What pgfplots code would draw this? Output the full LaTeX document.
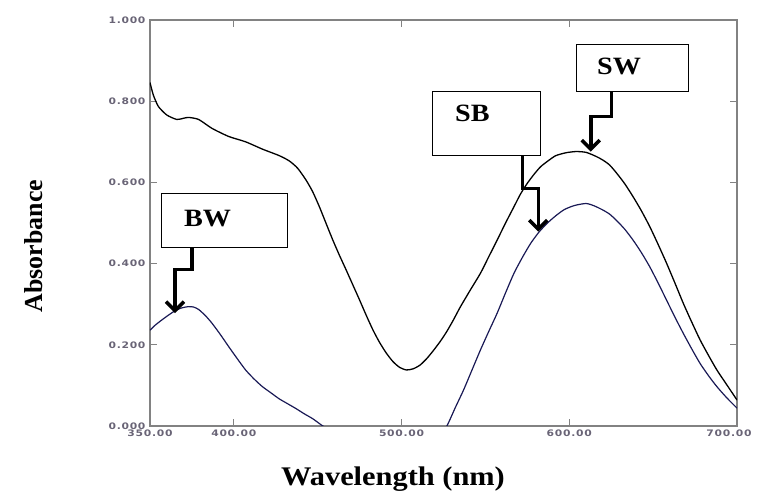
\documentclass[border=0pt]{standalone}
\usepackage{pgfplots}
\pgfplotsset{compat=1.18}
\usepackage{fontspec}
\setmainfont{Liberation Serif}
\newfontfamily\ticfont{DejaVu Sans}[FakeStretch=1.2,LetterSpace=8]
\newfontfamily\labfont{Liberation Serif}[FakeStretch=1.13]
\newfontfamily\ylabfont{Liberation Serif}
\usetikzlibrary{arrows.meta}
\definecolor{tickgray}{RGB}{105,100,118}
\definecolor{axisgray}{RGB}{130,130,130}
\definecolor{navy}{RGB}{25,25,85}
\begin{document}
\begin{tikzpicture}
\useasboundingbox (-150bp,-66bp) rectangle (607bp,426bp);
\begin{axis}[
  at={(0,0)}, anchor=south west,
  scale only axis, width=587bp, height=406bp,
  xmin=350, xmax=700, ymin=0, ymax=1,
  xtick={350,400,500,600,700},
  xticklabels={350.00,400.00,500.00,600.00,{\hspace{-16bp}700.00}},
  ytick={0,0.2,0.4,0.6,0.8,1},
  yticklabels={0.000,0.200,0.400,0.600,0.800,1.000},
  tick align=inside,
  major tick length=7bp,
  axis line style={draw=axisgray, line width=1.2bp},
  every tick/.style={draw=axisgray, line width=1bp},
  tick label style={font=\ticfont\bfseries\fontsize{9}{11}\selectfont, text=tickgray},
  xticklabel style={yshift=-0.5bp},
  yticklabel style={xshift=-1bp},
  clip=true,
]
\addplot[black, line width=1.3bp, smooth, tension=0.4] coordinates {
(350,0.846) (352,0.815) (355,0.787) (360,0.766) (366,0.755) (370,0.758)
(373,0.760) (379,0.755) (387,0.733) (397,0.713) (407,0.700) (417,0.682)
(427,0.666) (433,0.653) (438,0.635) (443,0.606) (447,0.577) (451,0.540)
(455,0.499) (459,0.458) (463,0.420) (467,0.384) (471,0.347) (475,0.310)
(479,0.272) (483,0.236) (487,0.205) (491,0.179) (495,0.158) (499,0.144)
(503,0.138) (507,0.141) (511,0.150) (515,0.166) (519,0.186) (523,0.208)
(527,0.233) (531,0.262) (535,0.293) (541,0.335) (547,0.376) (552,0.417)
(557,0.458) (562,0.500) (567,0.540) (571,0.572) (575,0.598) (579,0.620)
(583,0.639) (588,0.655) (592,0.666) (598,0.673) (604,0.676) (610,0.674)
(616,0.664) (620,0.655) (624,0.643) (628,0.624) (633,0.597) (638,0.565)
(643,0.530) (648,0.491) (653,0.447) (658,0.401) (663,0.352) (668,0.302)
(673,0.256) (678,0.212) (683,0.174) (688,0.138) (694,0.101) (700,0.064)
};
\addplot[navy, line width=1.2bp, smooth, tension=0.4] coordinates {
(350,0.236) (353,0.248) (357,0.261) (361,0.273) (365,0.284) (369,0.291)
(373,0.294) (376,0.293) (379,0.287) (383,0.272) (387,0.253) (392,0.225)
(397,0.195) (402,0.166) (407,0.138) (412,0.116) (417,0.097) (422,0.082)
(427,0.067) (432,0.055) (437,0.043) (442,0.030) (447,0.018) (452,0.003)
(455,-0.005)
};
\addplot[navy, line width=1.2bp, smooth, tension=0.4] coordinates {
(524,-0.010) (527,0.000) (532,0.045) (537,0.089) (542,0.138) (547,0.187)
(552,0.233) (557,0.278) (562,0.328) (567,0.376) (572,0.415) (577,0.450)
(582,0.478) (587,0.500) (592,0.518) (597,0.533) (603,0.543) (610,0.548)
(615,0.542) (620,0.532) (624,0.522) (628,0.507) (633,0.485) (638,0.458)
(643,0.427) (648,0.392) (653,0.352) (658,0.310) (663,0.268) (668,0.228)
(673,0.190) (678,0.154) (683,0.124) (688,0.097) (694,0.069) (700,0.044)
};
% annotation boxes
\draw[black, line width=0.8bp, fill=white] (axis cs:357,0.440) rectangle (axis cs:431.9,0.573);
\node[font=\labfont\bfseries\fontsize{25}{28}\selectfont] at (axis cs:384.3,0.511) {BW};
\draw[black, line width=0.8bp, fill=white] (axis cs:518.3,0.666) rectangle (axis cs:582.5,0.825);
\node[font=\labfont\bfseries\fontsize{25}{28}\selectfont] at (axis cs:542.2,0.770) {SB};
\draw[black, line width=0.8bp, fill=white] (axis cs:604.0,0.825) rectangle (axis cs:671.0,0.941);
\node[font=\labfont\bfseries\fontsize{25}{28}\selectfont] at (axis cs:629.7,0.885) {SW};
% arrows
\draw[black, line width=3.5bp, -{Straight Barb[length=9bp,width=18bp,line width=3.5bp]}]
  (axis cs:374.9,0.440) -- (axis cs:374.9,0.386) -- (axis cs:364.9,0.386) -- (axis cs:364.9,0.278);
\draw[black, line width=3.5bp, -{Straight Barb[length=9bp,width=18bp,line width=3.5bp]}]
  (axis cs:572.2,0.666) -- (axis cs:572.2,0.585) -- (axis cs:581.5,0.585) -- (axis cs:581.5,0.479);
\draw[black, line width=3.5bp, -{Straight Barb[length=9bp,width=18bp,line width=3.5bp]}]
  (axis cs:625.3,0.825) -- (axis cs:625.3,0.762) -- (axis cs:612.8,0.762) -- (axis cs:612.8,0.676);
\end{axis}
\node[rotate=90, font=\ylabfont\bfseries\fontsize{26}{30}\selectfont] at (-116bp,180bp) {Absorbance};
\node[anchor=base, font=\labfont\bfseries\fontsize{27}{32}\selectfont] at (243bp,-59bp) {Wavelength (nm)};
\end{tikzpicture}
\end{document}
